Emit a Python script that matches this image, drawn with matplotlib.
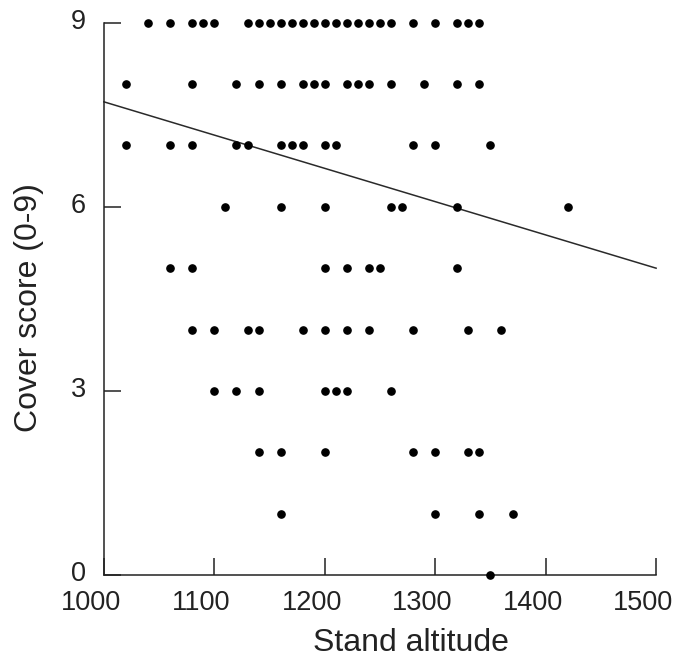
import numpy as np
import matplotlib.pyplot as plt
import matplotlib.transforms as mtransforms

plt.rcParams.update({
    "font.family": ["Liberation Sans", "DejaVu Sans"],
    "font.size": 19.5,
})

# stand altitude of each stand, grouped by cover score
alt_9 = [1040, 1060, 1080, 1090, 1100, 1130, 1140, 1150, 1160, 1170, 1180, 1190,
         1200, 1210, 1220, 1230, 1240, 1250, 1260, 1280, 1300, 1320, 1330, 1340]
alt_8 = [1020, 1080, 1120, 1140, 1160, 1180, 1190, 1200, 1220, 1230, 1240, 1260,
         1290, 1320, 1340]
alt_7 = [1020, 1060, 1080, 1120, 1130, 1160, 1170, 1180, 1200, 1210, 1280, 1300, 1350]
alt_6 = [1110, 1160, 1200, 1260, 1270, 1320, 1420]
alt_5 = [1060, 1080, 1200, 1220, 1240, 1250, 1320]
alt_4 = [1080, 1100, 1130, 1140, 1180, 1200, 1220, 1240, 1280, 1330, 1360]
alt_3 = [1100, 1120, 1140, 1200, 1210, 1220, 1260]
alt_2 = [1140, 1160, 1200, 1280, 1300, 1330, 1340]
alt_1 = [1160, 1300, 1340, 1370]
alt_0 = [1350]

# fitted regression line
fit_x = [1000, 1500]
fit_y = [7.71, 5.0]

xticks = [1000, 1100, 1200, 1300, 1400, 1500]
yticks = [0, 3, 6, 9]

groups = [alt_0, alt_1, alt_2, alt_3, alt_4, alt_5, alt_6, alt_7, alt_8, alt_9]
x = np.concatenate([np.array(g, dtype=float) for g in groups])
y = np.concatenate([np.full(len(g), score) for score, g in enumerate(groups)])

fig = plt.figure(figsize=(6.75, 6.61), dpi=100)
ax = fig.add_axes([0.154, 0.130, 0.818, 0.8357])

ax.plot(x, y, 'o', color='black', ms=5.2, clip_on=False, zorder=3)
ax.plot(fit_x, fit_y, '-', color='#2a2a2a', lw=1.1, clip_on=False)

ax.set_xlim(1000, 1500)
ax.set_ylim(0, 9)
ax.set_xticks(xticks)
ax.set_yticks(yticks)

for side in ['top', 'right']:
    ax.spines[side].set_visible(False)
for side in ['left', 'bottom']:
    ax.spines[side].set_linewidth(1.1)
    ax.spines[side].set_color('#222222')

ax.tick_params(axis='both', direction='in', length=12, width=1.1,
               color='#222222', labelsize=19.5, labelcolor='#222222')
ax.tick_params(axis='x', pad=11)
ax.tick_params(axis='y', pad=13)

# tick labels in the original sit a little off their ticks
shift_x = mtransforms.ScaledTranslation(-0.13, 0, fig.dpi_scale_trans)
shift_y = mtransforms.ScaledTranslation(0, 0.04, fig.dpi_scale_trans)
for lab in ax.get_xticklabels():
    lab.set_transform(lab.get_transform() + shift_x)
for lab in ax.get_yticklabels():
    lab.set_transform(lab.get_transform() + shift_y)

ax.set_xlabel('Stand altitude', fontsize=23, color='#222222')
ax.set_ylabel('Cover score (0-9)', fontsize=23, color='#222222')
ax.xaxis.set_label_coords(0.556, -0.095)
ax.yaxis.set_label_coords(-0.108, 0.485)

fig.savefig('out.png', dpi=100)
